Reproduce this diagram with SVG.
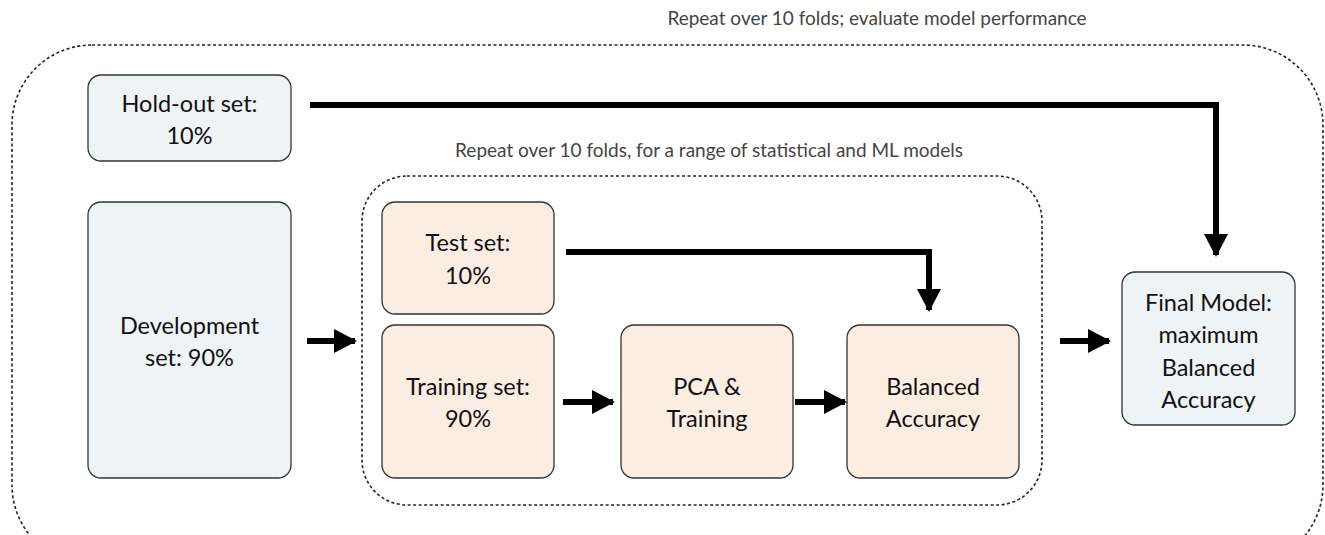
<svg xmlns="http://www.w3.org/2000/svg" width="1325" height="535" viewBox="0 0 1325 535">
  <style>
    .frame { fill: none; stroke: #222; stroke-width: 1.6; stroke-dasharray: 3 2.5; }
    .blue { fill: #eef3f6; stroke: #333; stroke-width: 1.3; }
    .peach { fill: #fbede2; stroke: #333; stroke-width: 1.3; }
    .lbl { font-family: Lato, "Liberation Sans", Arial, sans-serif; font-size: 23.5px; fill: #111; text-anchor: middle; }
    .cap { font-family: Lato, "Liberation Sans", Arial, sans-serif; font-size: 19px; fill: #444; text-anchor: middle; }
    .wire { fill: none; stroke: #000; stroke-width: 6; marker-end: url(#head); }
  </style>
  <defs>
    <marker id="head" markerUnits="userSpaceOnUse" markerWidth="23" markerHeight="24" refX="21" refY="12" orient="auto">
      <path d="M0,0 L23,12 L0,24 Z" fill="#000"/>
    </marker>
  </defs>
  <rect width="1325" height="535" fill="#fff"/>

  <!-- outer loop frame -->
  <g id="outer-loop">
    <rect class="frame" x="12" y="45" width="1311" height="520" rx="80" ry="80"/>
    <text class="cap" x="877" y="25">Repeat over 10 folds; evaluate model performance</text>
  </g>

  <!-- inner loop frame -->
  <g id="inner-loop">
    <rect class="frame" x="362" y="176" width="680" height="329" rx="45" ry="45"/>
    <text class="cap" x="709" y="157">Repeat over 10 folds, for a range of statistical and ML models</text>
  </g>

  <g id="holdout">
    <rect class="blue" x="88" y="75" width="203" height="86" rx="13"/>
    <text class="lbl" x="189.5" y="112">Hold-out set:</text>
    <text class="lbl" x="189.5" y="144">10%</text>
  </g>

  <g id="development">
    <rect class="blue" x="88" y="202" width="203" height="276" rx="13"/>
    <text class="lbl" x="189.5" y="334">Development</text>
    <text class="lbl" x="189.5" y="366">set: 90%</text>
  </g>

  <g id="test-set">
    <rect class="peach" x="382" y="202" width="172" height="112" rx="13"/>
    <text class="lbl" x="468" y="251">Test set:</text>
    <text class="lbl" x="468" y="284">10%</text>
  </g>

  <g id="training-set">
    <rect class="peach" x="382" y="325" width="172" height="153" rx="13"/>
    <text class="lbl" x="468" y="395">Training set:</text>
    <text class="lbl" x="468" y="427">90%</text>
  </g>

  <g id="pca-training">
    <rect class="peach" x="621" y="325" width="172" height="153" rx="13"/>
    <text class="lbl" x="707" y="395">PCA &amp;</text>
    <text class="lbl" x="707" y="427">Training</text>
  </g>

  <g id="balanced-accuracy">
    <rect class="peach" x="847" y="325" width="172" height="153" rx="13"/>
    <text class="lbl" x="933" y="395">Balanced</text>
    <text class="lbl" x="933" y="427">Accuracy</text>
  </g>

  <g id="final-model">
    <rect class="blue" x="1122" y="272" width="173" height="153" rx="13"/>
    <text class="lbl" x="1208.5" y="311">Final Model:</text>
    <text class="lbl" x="1208.5" y="343">maximum</text>
    <text class="lbl" x="1208.5" y="376">Balanced</text>
    <text class="lbl" x="1208.5" y="408">Accuracy</text>
  </g>

  <g id="connectors">
    <path class="wire" d="M310,105 H1216 V255"/>
    <path class="wire" d="M566,252 H929 V310"/>
    <path class="wire" d="M307,341 H355"/>
    <path class="wire" d="M563,402 H613"/>
    <path class="wire" d="M795,402 H845"/>
    <path class="wire" d="M1060,341 H1109"/>
  </g>
</svg>
